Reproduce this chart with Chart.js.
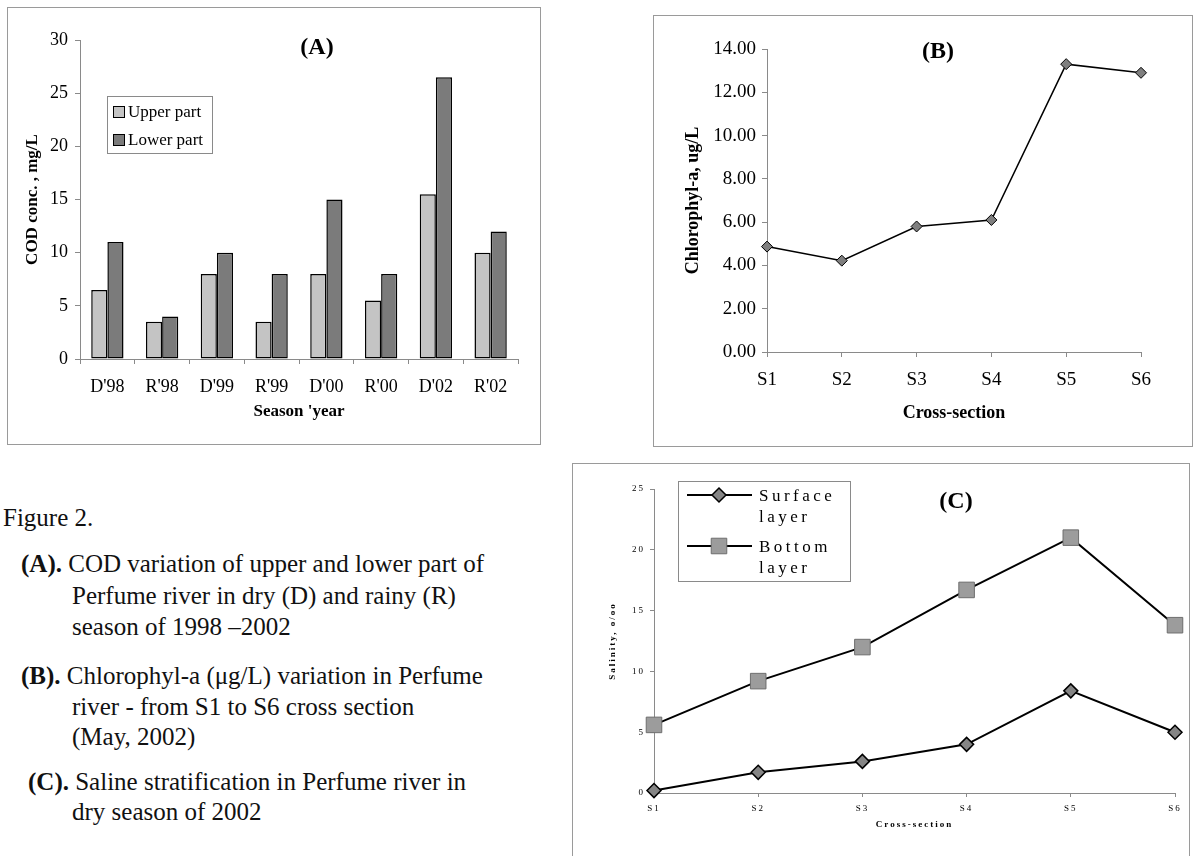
<!DOCTYPE html>
<html>
<head>
<meta charset="utf-8">
<script src="https://cdn.jsdelivr.net/npm/chart.js@4.4.0/dist/chart.umd.min.js"></script>
<style>
  body { margin: 0; width: 1196px; height: 856px; overflow: hidden; background: #fff; position: relative;
         font-family: "Liberation Serif", "Times New Roman", serif; }
  .panel { position: absolute; box-sizing: border-box; border: 1px solid #9a9a9a; }
  .panel canvas { position: absolute; left: -1px; top: -1px; }
  .cap { position: absolute; font-size: 25px; line-height: 30px; white-space: nowrap; color: #111; }
</style>
</head>
<body>

<div class="panel" style="left:7px;top:7px;width:534px;height:438px"><canvas id="chartA" width="534" height="438"></canvas></div>
<div class="panel" style="left:653px;top:15px;width:540px;height:432px"><canvas id="chartB" width="540" height="432"></canvas></div>
<div class="panel" style="left:572px;top:463px;width:618px;height:410px"><canvas id="chartC" width="618" height="393"></canvas></div>

<div class="cap" style="left:3px;top:503px">Figure 2.</div>
<div class="cap" style="left:21px;top:549px"><b>(A).</b> COD variation of upper and lower part of</div>
<div class="cap" style="left:72px;top:581px">Perfume river in dry (D) and rainy (R)</div>
<div class="cap" style="left:72px;top:612px">season of 1998 –2002</div>
<div class="cap" style="left:21px;top:661px"><b>(B).</b> Chlorophyl-a (μg/L) variation in Perfume</div>
<div class="cap" style="left:72px;top:692px">river - from S1 to S6 cross section</div>
<div class="cap" style="left:72px;top:722px">(May, 2002)</div>
<div class="cap" style="left:28px;top:767px"><b>(C).</b> Saline stratification in Perfume river in</div>
<div class="cap" style="left:72px;top:797px">dry season of 2002</div>

<script>
// (A) COD, mg/L
const seasons = ["D'98", "R'98", "D'99", "R'99", "D'00", "R'00", "D'02", "R'02"];
const codUpper = [6.5, 3.5, 8, 3.5, 8, 5.5, 15.5, 10];
const codLower = [11, 4, 10, 8, 15, 8, 26.5, 12];

// (B) chlorophyll-a, ug/L
const sections = ['S1', 'S2', 'S3', 'S4', 'S5', 'S6'];
const chlorophyll = [4.87, 4.22, 5.8, 6.1, 13.3, 12.9];

// (C) salinity, o/oo
const salinitySurface = [0.2, 1.7, 2.6, 4.0, 8.4, 5.0];
const salinityBottom = [5.6, 9.2, 12.0, 16.7, 21.0, 13.8];

const serif = '"Liberation Serif", "Times New Roman", serif';
Chart.defaults.font.family = serif;
Chart.defaults.color = '#000';

const axisGray = '#8a8a8a';

// panel letter + a boxed legend drawn inside the plot
const panelDecor = {
  id: 'panelDecor',
  beforeDraw(chart, args, opts) {
    chart.ctx.letterSpacing = opts.spacing || '0px';
  },
  afterDraw(chart, args, opts) {
    const ctx = chart.ctx;
    ctx.save();
    ctx.letterSpacing = '0px';
    ctx.fillStyle = '#000';
    ctx.textAlign = 'center';
    ctx.textBaseline = 'middle';
    ctx.font = 'bold 24px ' + serif;
    ctx.fillText(opts.title.text, opts.title.x, opts.title.y);

    const lg = opts.legend;
    ctx.strokeStyle = '#8a8a8a';
    ctx.lineWidth = 1;
    ctx.strokeRect(lg.x + 0.5, lg.y + 0.5, lg.w, lg.h);
    ctx.font = lg.size + 'px ' + serif;
    ctx.textAlign = 'left';
    ctx.letterSpacing = lg.spacing || '0px';

    chart.data.datasets.forEach((ds, i) => {
      const y = lg.rows[i];
      if (chart.config.type === 'bar') {
        ctx.fillStyle = ds.backgroundColor;
        ctx.fillRect(lg.markX, y - 6, 12, 12);
        ctx.strokeStyle = '#000';
        ctx.lineWidth = 1;
        ctx.strokeRect(lg.markX + 0.5, y - 5.5, 11, 11);
        ctx.fillStyle = '#000';
        ctx.fillText(ds.label, lg.textX, y + 1);
      } else {
        ctx.strokeStyle = ds.borderColor;
        ctx.lineWidth = ds.borderWidth;
        ctx.beginPath();
        ctx.moveTo(lg.lineX0, y);
        ctx.lineTo(lg.lineX1, y);
        ctx.stroke();
        const r = ds.pointRadius, mx = lg.markX;
        ctx.fillStyle = ds.pointBackgroundColor;
        ctx.strokeStyle = ds.pointBorderColor;
        ctx.lineWidth = ds.pointBorderWidth;
        ctx.beginPath();
        if (ds.pointStyle === 'rectRot') {
          ctx.moveTo(mx - r, y); ctx.lineTo(mx, y - r); ctx.lineTo(mx + r, y); ctx.lineTo(mx, y + r);
        } else {
          const s = r * Math.SQRT1_2;
          ctx.rect(mx - s, y - s, 2 * s, 2 * s);
        }
        ctx.closePath();
        ctx.fill();
        ctx.stroke();
        ctx.fillStyle = '#000';
        ds.label.split(' ').forEach((word, k) => ctx.fillText(word, lg.textX, y + 2 + k * lg.lineGap));
      }
    });
    ctx.restore();
  }
};

function axisGrid(len) {
  return { drawOnChartArea: false, tickLength: len, color: axisGray, lineWidth: 1 };
}

// ---------- (A) bars ----------
new Chart(document.getElementById('chartA'), {
  type: 'bar',
  data: {
    labels: seasons,
    datasets: [
      { label: 'Upper part', data: codUpper, backgroundColor: '#c4c4c4', borderColor: '#000', borderWidth: 1.5, borderSkipped: false },
      { label: 'Lower part', data: codLower, backgroundColor: '#7b7b7b', borderColor: '#000', borderWidth: 1.5, borderSkipped: false }
    ]
  },
  options: {
    responsive: false,
    animation: false,
    layout: { padding: { top: 33, right: 23, left: 0, bottom: 0 } },
    datasets: { bar: { categoryPercentage: 0.59, barPercentage: 1 } },
    plugins: {
      legend: { display: false },
      tooltip: { enabled: false },
      panelDecor: {
        title: { text: '(A)', x: 310, y: 41 },
        legend: { x: 100, y: 89, w: 105, h: 57, rows: [105, 133], markX: 106, textX: 121, size: 17 }
      }
    },
    scales: {
      x: {
        grid: axisGrid(5),
        border: { color: axisGray },
        ticks: { font: { size: 18 }, padding: 12 },
        title: { display: true, text: "Season 'year", font: { size: 17, weight: 'bold' }, padding: { top: 0, bottom: 23 } },
        afterFit: s => { s.height = 86; }
      },
      y: {
        min: 0, max: 30,
        grid: axisGrid(5),
        border: { color: axisGray },
        ticks: { stepSize: 5, font: { size: 18 }, padding: 7 },
        title: { display: true, text: 'COD conc. , mg/L', font: { size: 17, weight: 'bold' }, padding: { top: 15, bottom: 0 } },
        afterFit: s => { s.width = 73; }
      }
    }
  },
  plugins: [panelDecor]
});

// ---------- (B) line ----------
new Chart(document.getElementById('chartB'), {
  type: 'line',
  data: {
    labels: sections,
    datasets: [{
      label: 'Chlorophyl-a', data: chlorophyll, borderColor: '#000', borderWidth: 1.5, tension: 0, clip: false,
      pointStyle: 'rectRot', pointRadius: 5.5, pointBackgroundColor: '#7f7f7f', pointBorderColor: '#000', pointBorderWidth: 1
    }]
  },
  options: {
    responsive: false,
    animation: false,
    layout: { padding: { top: 34, right: 52, left: 0, bottom: 0 } },
    plugins: {
      legend: { display: false },
      tooltip: { enabled: false },
      panelDecor: {
        title: { text: '(B)', x: 285, y: 37 },
        legend: { x: -10, y: -10, w: 0, h: 0, rows: [] }
      }
    },
    scales: {
      x: {
        offset: false,
        grid: axisGrid(5),
        border: { color: axisGray },
        ticks: { font: { size: 19 }, padding: 12 },
        title: { display: true, text: 'Cross-section', font: { size: 18, weight: 'bold' }, padding: { top: 0, bottom: 23 } },
        afterFit: s => { s.height = 95; }
      },
      y: {
        min: 0, max: 14,
        grid: axisGrid(5),
        border: { color: axisGray },
        ticks: { stepSize: 2, font: { size: 19 }, padding: 6, callback: v => v.toFixed(2) },
        title: { display: true, text: 'Chlorophyl-a, ug/L', font: { size: 18, weight: 'bold' }, padding: { top: 30, bottom: 0 } },
        afterFit: s => { s.width = 114; }
      }
    }
  },
  plugins: [panelDecor]
});

// ---------- (C) two lines ----------
new Chart(document.getElementById('chartC'), {
  type: 'line',
  data: {
    labels: sections,
    datasets: [
      { label: 'Surface layer', data: salinitySurface, borderColor: '#000', borderWidth: 2, tension: 0, clip: false,
        pointStyle: 'rectRot', pointRadius: 7, pointBackgroundColor: '#858585', pointBorderColor: '#000', pointBorderWidth: 1.5 },
      { label: 'Bottom layer', data: salinityBottom, borderColor: '#000', borderWidth: 2, tension: 0, clip: false,
        pointStyle: 'rect', pointRadius: 11, pointBackgroundColor: '#9c9c9c', pointBorderColor: '#6e6e6e', pointBorderWidth: 1 }
    ]
  },
  options: {
    responsive: false,
    animation: false,
    layout: { padding: { top: 26, right: 15, left: 0, bottom: 0 } },
    plugins: {
      legend: { display: false },
      tooltip: { enabled: false },
      panelDecor: {
        spacing: '2px',
        title: { text: '(C)', x: 384, y: 39 },
        legend: { x: 106, y: 18, w: 172, h: 100, rows: [32, 83], lineX0: 115, lineX1: 180, markX: 147,
                  textX: 187, lineGap: 21, size: 17, spacing: '3.5px' }
      }
    },
    scales: {
      x: {
        offset: false,
        grid: axisGrid(4),
        border: { color: axisGray },
        ticks: { font: { size: 9 }, padding: 6 },
        title: { display: true, text: 'Cross-section', font: { size: 9, weight: 'bold' }, padding: { top: 0, bottom: 26 } },
        afterFit: s => { s.height = 63; }
      },
      y: {
        min: 0, max: 25,
        grid: axisGrid(4),
        border: { color: axisGray },
        ticks: { stepSize: 5, font: { size: 9 }, padding: 5 },
        title: { display: true, text: 'Salinity, o/oo', font: { size: 9, weight: 'bold' }, padding: { top: 35, bottom: 0 } },
        afterFit: s => { s.width = 82; }
      }
    }
  },
  plugins: [panelDecor]
});
</script>
</body>
</html>
